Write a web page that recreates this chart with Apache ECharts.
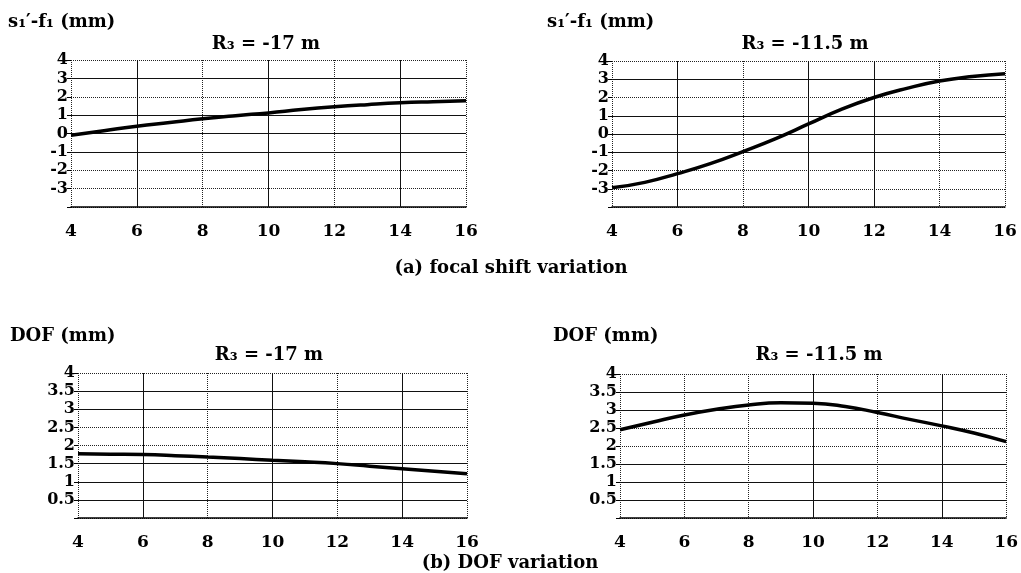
<!DOCTYPE html>
<html>
<head>
<meta charset="utf-8">
<script src="https://cdn.jsdelivr.net/npm/echarts@6/dist/echarts.min.js"></script>
<style>
html, body { margin: 0; padding: 0; background: #fff; }
#main { width: 1021px; height: 573px; }
</style>
</head>
<body>
<div id="main"></div>
<script>
// x positions (m) shared by all four panels
var xVals = [4, 5, 6, 7, 8, 9, 10, 11, 12, 13, 14, 15, 16];
// (a) focal shift s1'-f1 (mm)
var shift17 = [-0.1, 0.15, 0.4, 0.6, 0.8, 0.97, 1.12, 1.3, 1.45, 1.57, 1.67, 1.73, 1.78];
var shift115 = [-2.95, -2.65, -2.17, -1.62, -0.96, -0.25, 0.55, 1.35, 2.0, 2.5, 2.9, 3.15, 3.3];
// (b) DOF (mm)
var dof17 = [1.77, 1.76, 1.75, 1.72, 1.68, 1.64, 1.59, 1.55, 1.5, 1.43, 1.36, 1.29, 1.22];
var dof115 = [2.45, 2.66, 2.86, 3.02, 3.14, 3.2, 3.19, 3.1, 2.93, 2.74, 2.56, 2.36, 2.12];

// grid lines drawn solid (the rest are dotted)
var solidYTop = [3, 1, 0, -1];
var solidYBottom = [3.5, 3, 1.5, 1, 0.5];
var solidXList = [[6, 10, 14], [6, 10, 12], [6, 10, 14], [10, 14]];

var fontFam = 'DejaVu Serif';

var chart = echarts.init(document.getElementById('main'));

function pairs(ys) {
	var out = [];
	for (var i = 0; i < xVals.length; i++) out.push([xVals[i], ys[i]]);
	return out;
}

var grids = [
	{ left: 71, top: 60, width: 395, height: 147 },
	{ left: 612, top: 61, width: 393, height: 146 },
	{ left: 78, top: 373, width: 389, height: 145 },
	{ left: 620, top: 374, width: 387, height: 144 }
];
var seriesData = [shift17, shift115, dof17, dof115];

var xAxes = [], yAxes = [], series = [];
for (var g = 0; g < 4; g++) {
	var isTop = g < 2;
	var yMin = isTop ? -4 : 0;
	xAxes.push({
		type: 'value', gridIndex: g, min: 4, max: 16, interval: 2,
		axisLine: { onZero: false, lineStyle: { color: '#000', width: 1.5 } },
		axisTick: { show: false },
		axisLabel: { margin: 16, color: '#000', fontFamily: fontFam, fontWeight: 'bold', fontSize: 17 },
		splitLine: { show: true, lineStyle: { type: 'dotted', color: '#222', width: 1 } }
	});
	yAxes.push({
		type: 'value', gridIndex: g,
		min: yMin, max: 4, interval: isTop ? 1 : 0.5,
		axisLine: { show: false },
		axisTick: { show: true, length: 4, lineStyle: { color: '#000' } },
		axisLabel: {
			margin: 3, color: '#000', fontFamily: fontFam, fontWeight: 'bold', fontSize: 16,
			formatter: (function (lo) { return function (v) { return v === lo ? '' : String(v); }; })(yMin)
		},
		splitLine: { show: true, lineStyle: { type: 'dotted', color: '#222', width: 1 } }
	});
	var marks = [];
	var sy = isTop ? solidYTop : solidYBottom;
	for (var i = 0; i < sy.length; i++) marks.push({ yAxis: sy[i] });
	for (var j = 0; j < solidXList[g].length; j++) marks.push({ xAxis: solidXList[g][j] });
	series.push({
		type: 'line', xAxisIndex: g, yAxisIndex: g,
		data: pairs(seriesData[g]),
		smooth: true, showSymbol: false,
		lineStyle: { color: '#000', width: 3.5 },
		z: 5,
		markLine: {
			silent: true, symbol: 'none', label: { show: false },
			lineStyle: { type: 'solid', color: '#111', width: 1 },
			data: marks
		}
	});
}

function txt(x, y, s, align) {
	return {
		type: 'text', x: x, y: y,
		style: {
			text: s, fill: '#000', textAlign: align, textVerticalAlign: 'middle',
			font: 'bold 18px "DejaVu Serif"'
		}
	};
}

option = {
	backgroundColor: '#fff',
	animation: false,
	grid: grids,
	xAxis: xAxes,
	yAxis: yAxes,
	series: series,
	graphic: [
		txt(8, 22, 's\u2081\u2032-f\u2081 (mm)', 'left'),
		txt(266, 44, 'R\u2083 = -17 m', 'center'),
		txt(547, 22, 's\u2081\u2032-f\u2081 (mm)', 'left'),
		txt(805, 44, 'R\u2083 = -11.5 m', 'center'),
		txt(511, 268, '(a) focal shift variation', 'center'),
		txt(10, 336, 'DOF (mm)', 'left'),
		txt(269, 355, 'R\u2083 = -17 m', 'center'),
		txt(553, 336, 'DOF (mm)', 'left'),
		txt(819, 355, 'R\u2083 = -11.5 m', 'center'),
		txt(510, 563, '(b) DOF variation', 'center')
	]
};

chart.setOption(option);
</script>
</body>
</html>
